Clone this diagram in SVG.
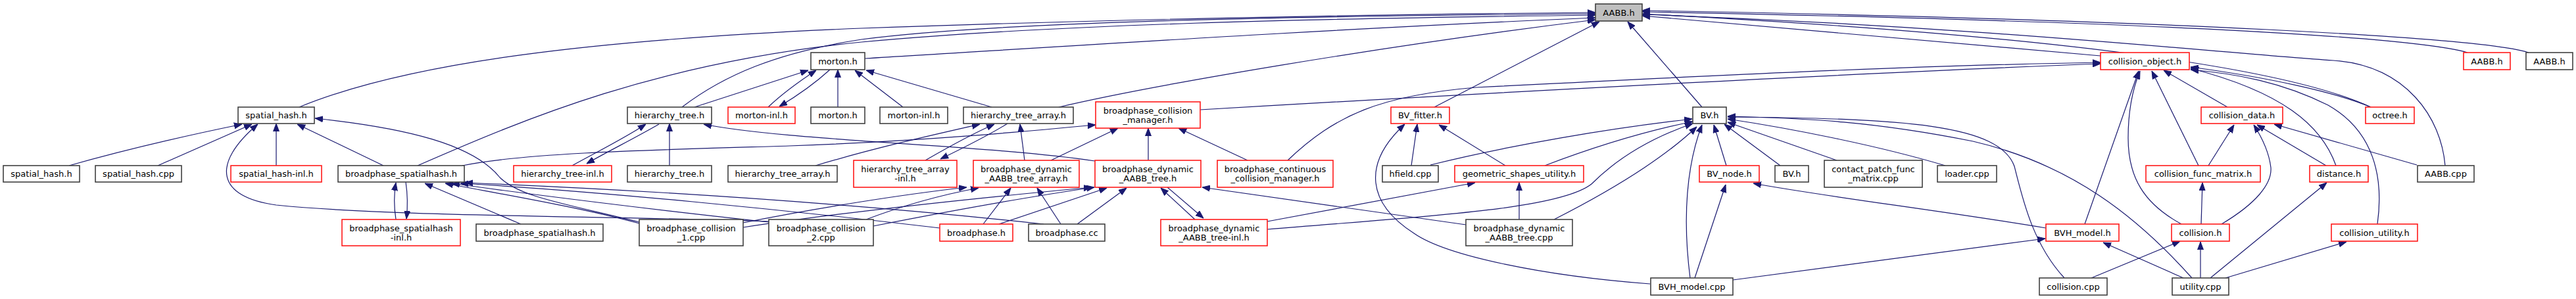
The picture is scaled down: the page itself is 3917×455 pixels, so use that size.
<svg xmlns="http://www.w3.org/2000/svg" width="3917" height="455" viewBox="0 0 3917 455">
<style>
rect{fill:#fff;stroke:#404040;stroke-width:1.6}
.r rect{stroke:#ff1a1a}
.root rect{fill:#bfbfbf}
text{font-family:"DejaVu Sans","Liberation Sans",sans-serif;font-size:13px;text-anchor:middle;fill:#000}
#edges path{fill:none;stroke:#191970;stroke-width:1.2;marker-end:url(#a)}
</style>
<defs>
<marker id="a" markerUnits="userSpaceOnUse" markerWidth="12" markerHeight="10" refX="12" refY="5" orient="auto"><path d="M0,0.5 L12,5 L0,9.5 z" fill="#191970" stroke="#191970" stroke-width="1"/></marker>
</defs>
<rect x="0" y="0" width="3917" height="455" style="fill:#fff;stroke:none"/>
<g id="edges">
<path d="M455,163 C620,95 900,60 1310,43 C1700,29 2100,22 2426,19"/>
<path d="M1037,163 C1100,115 1180,80 1310,60 C1500,35 1900,25 2426,21"/>
<path d="M635,252 C800,180 1000,95 1310,64 C1600,37 2000,28 2426,23"/>
<path d="M1315,89 C1600,72 2000,45 2426,27"/>
<path d="M1610,163 C1750,130 2100,70 2426,30"/>
<path d="M2181,163 L2432,33"/>
<path d="M2588,163 L2475,33"/>
<path d="M3194,85 L2497,24"/>
<path d="M3752,80 C3680,58 3300,33 2497,18"/>
<path d="M3845,80 C3780,58 3300,30 2497,16"/>
<path d="M3605,163 C3480,105 3150,55 2497,21"/>
<path d="M3718,252 C3712,180 3660,100 3548,92 C3350,78 3000,40 2497,22"/>
<path d="M1056,163 L1229,107"/>
<path d="M1168,163 C1190,142 1215,124 1241,107"/>
<path d="M1262,106 C1240,126 1212,146 1185,162"/>
<path d="M1274,163 L1274,106"/>
<path d="M1373,163 L1300,107"/>
<path d="M1508,163 L1317,107"/>
<path d="M105,252 C200,225 290,205 368,189"/>
<path d="M240,252 L383,189"/>
<path d="M420,252 L420,188"/>
<path d="M583,252 L452,189"/>
<path d="M972,338 C860,310 790,300 760,270 C720,220 620,195 479,180"/>
<path d="M1169,337 C900,328 600,330 420,312 C330,300 320,250 392,189"/>
<path d="M602,334 C599,315 599,295 602,278"/>
<path d="M617,277 C620,297 620,315 618,333"/>
<path d="M792,341 L646,279"/>
<path d="M972,340 C880,315 760,295 677,279"/>
<path d="M1169,338 C1000,320 800,295 687,279"/>
<path d="M1429,347 C1200,320 900,290 700,279"/>
<path d="M1587,341 C1300,310 1000,290 707,278"/>
<path d="M870,252 C910,230 950,210 982,189"/>
<path d="M1002,189 C960,213 925,230 892,249"/>
<path d="M1018,252 L1018,188"/>
<path d="M1665,245 C1500,220 1200,215 1070,189"/>
<path d="M1240,252 C1330,225 1420,205 1490,189"/>
<path d="M1407,244 C1440,225 1475,205 1512,189"/>
<path d="M1532,188 C1500,208 1465,225 1430,242"/>
<path d="M1558,244 L1551,189"/>
<path d="M703,252 C800,232 1000,228 1200,222 C1400,215 1560,200 1666,190"/>
<path d="M1598,244 L1700,195"/>
<path d="M1746,244 L1746,195"/>
<path d="M1897,244 L1792,195"/>
<path d="M1825,167 C2200,145 2800,112 3194,97"/>
<path d="M1958,244 C2030,175 2100,145 2245,133 C2600,115 2900,100 3194,95"/>
<path d="M1130,339 C1250,315 1380,295 1470,285"/>
<path d="M1317,334 C1380,310 1440,295 1488,286"/>
<path d="M1495,341 L1537,286"/>
<path d="M1613,341 L1577,286"/>
<path d="M1130,346 C1300,320 1500,300 1660,285"/>
<path d="M1328,344 C1450,320 1560,300 1664,285"/>
<path d="M1519,341 L1683,286"/>
<path d="M1638,341 L1713,286"/>
<path d="M1817,334 L1765,286"/>
<path d="M1775,285 L1830,332"/>
<path d="M2229,342 L1828,285"/>
<path d="M1927,337 C2050,315 2150,295 2243,278"/>
<path d="M2310,334 L2310,278"/>
<path d="M2289,252 L2188,190"/>
<path d="M2146,252 L2155,189"/>
<path d="M2509,432 C2350,420 2200,390 2150,355 C2080,310 2070,250 2136,189"/>
<path d="M2175,251 C2300,220 2450,195 2573,181"/>
<path d="M2349,252 C2420,225 2500,200 2574,185"/>
<path d="M1927,349 C2150,330 2370,320 2420,280 C2460,240 2510,210 2574,188"/>
<path d="M2363,334 C2430,300 2520,250 2580,193"/>
<path d="M2570,423 C2558,330 2565,250 2588,190"/>
<path d="M2625,252 L2606,190"/>
<path d="M2707,252 L2622,189"/>
<path d="M2793,244 L2627,186"/>
<path d="M2958,252 C2850,220 2720,195 2627,181"/>
<path d="M3139,423 C3090,370 3075,300 3063,253 C3040,190 2900,180 2627,178"/>
<path d="M3333,423 C3250,330 3150,250 3000,215 C2850,185 2750,180 2627,177"/>
<path d="M2577,423 L2624,281"/>
<path d="M3111,347 C2950,320 2780,300 2666,279"/>
<path d="M2635,426 L3110,363"/>
<path d="M3320,423 L3198,369"/>
<path d="M3170,341 L3252,108"/>
<path d="M3317,341 C3260,310 3236,270 3236,210 C3236,160 3245,130 3254,108"/>
<path d="M3343,252 L3272,108"/>
<path d="M3387,163 L3290,107"/>
<path d="M3605,163 C3550,140 3450,118 3331,102"/>
<path d="M3552,252 C3530,190 3470,140 3331,104"/>
<path d="M3615,341 C3625,270 3610,200 3540,160 C3470,125 3400,112 3331,106"/>
<path d="M3358,252 L3397,190"/>
<path d="M3378,341 C3430,310 3455,280 3453,255 C3450,230 3440,210 3427,190"/>
<path d="M3537,252 L3432,190"/>
<path d="M3675,251 L3458,189"/>
<path d="M3347,341 L3349,278"/>
<path d="M3180,423 L3315,367"/>
<path d="M3346,423 L3346,368"/>
<path d="M3361,423 L3538,278"/>
<path d="M3384,423 L3568,368"/>
</g>
<g id="n_root" class="root"><rect x="2426" y="6" width="71" height="26"/><text x="2461.5" y="23.5">AABB.h</text></g>
<g id="n_morton1"><rect x="1233" y="80" width="82" height="26"/><text x="1274" y="97.5">morton.h</text></g>
<g id="n_colobj" class="r"><rect x="3194" y="80" width="135" height="26"/><text x="3261.5" y="97.5">collision_object.h</text></g>
<g id="n_aabb_red" class="r"><rect x="3746" y="80" width="71" height="26"/><text x="3781.5" y="97.5">AABB.h</text></g>
<g id="n_aabb_blk"><rect x="3841" y="80" width="71" height="26"/><text x="3876.5" y="97.5">AABB.h</text></g>
<g id="n_sh"><rect x="362" y="163" width="116" height="25"/><text x="420" y="180">spatial_hash.h</text></g>
<g id="n_ht"><rect x="954" y="163" width="128" height="25"/><text x="1018" y="180">hierarchy_tree.h</text></g>
<g id="n_mi_r" class="r"><rect x="1107" y="163" width="102" height="25"/><text x="1158" y="180">morton-inl.h</text></g>
<g id="n_m2"><rect x="1233" y="163" width="82" height="25"/><text x="1274" y="180">morton.h</text></g>
<g id="n_mi2"><rect x="1338" y="163" width="103" height="25"/><text x="1389.5" y="180">morton-inl.h</text></g>
<g id="n_hta"><rect x="1465" y="163" width="167" height="25"/><text x="1548.5" y="180">hierarchy_tree_array.h</text></g>
<g id="n_bcm" class="r"><rect x="1666" y="155" width="159" height="40"/><text x="1745.5" y="172.7">broadphase_collision</text><text x="1745.5" y="186.7">_manager.h</text></g>
<g id="n_bvf" class="r"><rect x="2115" y="163" width="89" height="25"/><text x="2159.5" y="180">BV_fitter.h</text></g>
<g id="n_bv"><rect x="2574" y="163" width="51" height="25"/><text x="2599.5" y="180">BV.h</text></g>
<g id="n_cd" class="r"><rect x="3347" y="163" width="124" height="25"/><text x="3409" y="180">collision_data.h</text></g>
<g id="n_oct" class="r"><rect x="3597" y="163" width="74" height="25"/><text x="3634" y="180">octree.h</text></g>
<g id="n_sh3"><rect x="5" y="252" width="116" height="25"/><text x="63" y="269">spatial_hash.h</text></g>
<g id="n_shcpp"><rect x="145" y="252" width="131" height="25"/><text x="210.5" y="269">spatial_hash.cpp</text></g>
<g id="n_shinl" class="r"><rect x="351" y="252" width="138" height="25"/><text x="420" y="269">spatial_hash-inl.h</text></g>
<g id="n_bsh"><rect x="514" y="252" width="192" height="25"/><text x="610" y="269">broadphase_spatialhash.h</text></g>
<g id="n_htinl" class="r"><rect x="781" y="252" width="149" height="25"/><text x="855.5" y="269">hierarchy_tree-inl.h</text></g>
<g id="n_ht3"><rect x="954" y="252" width="128" height="25"/><text x="1018" y="269">hierarchy_tree.h</text></g>
<g id="n_hta3"><rect x="1107" y="252" width="166" height="25"/><text x="1190" y="269">hierarchy_tree_array.h</text></g>
<g id="n_htainl" class="r"><rect x="1298" y="244" width="157" height="41"/><text x="1376.5" y="262">hierarchy_tree_array</text><text x="1376.5" y="276">-inl.h</text></g>
<g id="n_bdata" class="r"><rect x="1480" y="244" width="161" height="41"/><text x="1560.5" y="262">broadphase_dynamic</text><text x="1560.5" y="276">_AABB_tree_array.h</text></g>
<g id="n_bdat" class="r"><rect x="1665" y="244" width="161" height="41"/><text x="1745.5" y="262">broadphase_dynamic</text><text x="1745.5" y="276">_AABB_tree.h</text></g>
<g id="n_bccm" class="r"><rect x="1851" y="244" width="176" height="41"/><text x="1939" y="262">broadphase_continuous</text><text x="1939" y="276">_collision_manager.h</text></g>
<g id="n_hfield"><rect x="2102" y="252" width="85" height="25"/><text x="2144.5" y="269">hfield.cpp</text></g>
<g id="n_gsu" class="r"><rect x="2212" y="252" width="196" height="25"/><text x="2310" y="269">geometric_shapes_utility.h</text></g>
<g id="n_bvnode" class="r"><rect x="2584" y="252" width="91" height="25"/><text x="2629.5" y="269">BV_node.h</text></g>
<g id="n_bv3"><rect x="2699" y="252" width="51" height="25"/><text x="2724.5" y="269">BV.h</text></g>
<g id="n_cpfm"><rect x="2774" y="244" width="149" height="41"/><text x="2848.5" y="262">contact_patch_func</text><text x="2848.5" y="276">_matrix.cpp</text></g>
<g id="n_loader"><rect x="2946" y="252" width="90" height="25"/><text x="2991" y="269">loader.cpp</text></g>
<g id="n_cfm" class="r"><rect x="3263" y="252" width="174" height="25"/><text x="3350" y="269">collision_func_matrix.h</text></g>
<g id="n_dist" class="r"><rect x="3512" y="252" width="89" height="25"/><text x="3556.5" y="269">distance.h</text></g>
<g id="n_aabbcpp"><rect x="3676" y="252" width="86" height="25"/><text x="3719" y="269">AABB.cpp</text></g>
<g id="n_bshinl" class="r"><rect x="520" y="334" width="180" height="40"/><text x="610" y="351.7">broadphase_spatialhash</text><text x="610" y="365.7">-inl.h</text></g>
<g id="n_bsh4"><rect x="724" y="341" width="193" height="26"/><text x="820.5" y="358.5">broadphase_spatialhash.h</text></g>
<g id="n_bc1"><rect x="972" y="334" width="158" height="40"/><text x="1051" y="351.7">broadphase_collision</text><text x="1051" y="365.7">_1.cpp</text></g>
<g id="n_bc2"><rect x="1169" y="334" width="159" height="40"/><text x="1248.5" y="351.7">broadphase_collision</text><text x="1248.5" y="365.7">_2.cpp</text></g>
<g id="n_bph" class="r"><rect x="1429" y="341" width="111" height="26"/><text x="1484.5" y="358.5">broadphase.h</text></g>
<g id="n_bpcc"><rect x="1564" y="341" width="116" height="26"/><text x="1622" y="358.5">broadphase.cc</text></g>
<g id="n_bdatinl" class="r"><rect x="1765" y="334" width="162" height="40"/><text x="1846" y="351.7">broadphase_dynamic</text><text x="1846" y="365.7">_AABB_tree-inl.h</text></g>
<g id="n_bdatcpp"><rect x="2229" y="334" width="162" height="40"/><text x="2310" y="351.7">broadphase_dynamic</text><text x="2310" y="365.7">_AABB_tree.cpp</text></g>
<g id="n_bvhm" class="r"><rect x="3111" y="341" width="111" height="26"/><text x="3166.5" y="358.5">BVH_model.h</text></g>
<g id="n_col" class="r"><rect x="3302" y="341" width="88" height="26"/><text x="3346" y="358.5">collision.h</text></g>
<g id="n_colu" class="r"><rect x="3545" y="341" width="131" height="26"/><text x="3610.5" y="358.5">collision_utility.h</text></g>
<g id="n_bvhcpp"><rect x="2510" y="423" width="125" height="26"/><text x="2572.5" y="440.5">BVH_model.cpp</text></g>
<g id="n_colcpp"><rect x="3101" y="423" width="103" height="26"/><text x="3152.5" y="440.5">collision.cpp</text></g>
<g id="n_util"><rect x="3303" y="423" width="86" height="26"/><text x="3346" y="440.5">utility.cpp</text></g>
</svg>
